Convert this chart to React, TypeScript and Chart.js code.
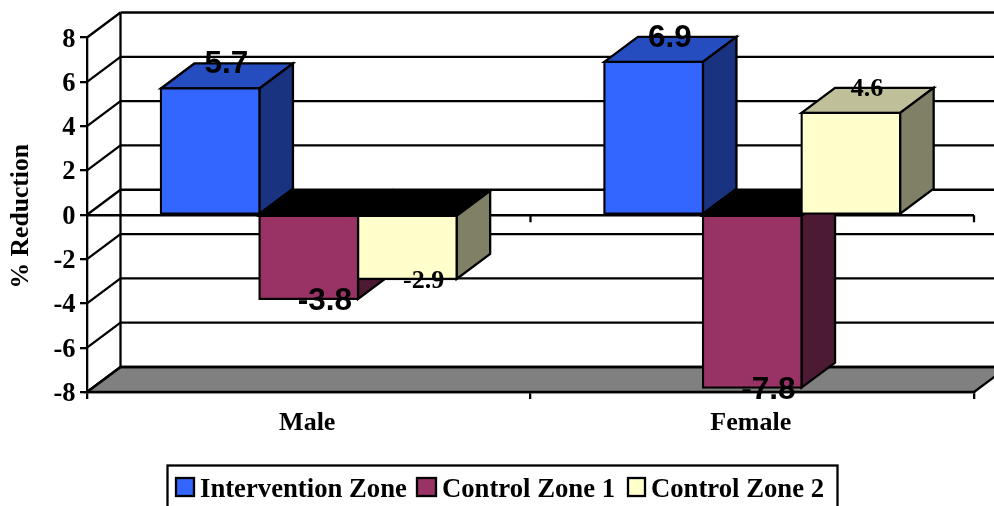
import React, { useEffect, useRef } from "react";
import { Chart, registerables } from "chart.js";

Chart.register(...registerables);

const categories = ["Male", "Female"];
const interventionZone = [5.7, 6.9];
const controlZone1 = [-3.8, -7.8];
const controlZone2 = [-2.9, 4.6];
const seriesNames = ["Intervention Zone", "Control Zone 1", "Control Zone 2"];
const axisTitle = "% Reduction";

const SERIF = "'Liberation Serif', 'Times New Roman', serif";
const SANS = "'Liberation Sans', Arial, sans-serif";
const DX = 33.5;
const DY = 25;
const LW = 2.3;

const faces = [
  { front: "#3366FF", top: "#264DBF", side: "#1A3380", labelFont: `bold 31.5px ${SANS}` },
  { front: "#993366", top: "#731F4D", side: "#4D1A33", labelFont: `bold 31.5px ${SANS}` },
  { front: "#FFFFCC", top: "#BFBF99", side: "#808066", labelFont: `bold 26px ${SERIF}` },
];

function poly(ctx: CanvasRenderingContext2D, pts: number[][], fill: string | null) {
  ctx.beginPath();
  pts.forEach((p, i) => (i ? ctx.lineTo(p[0], p[1]) : ctx.moveTo(p[0], p[1])));
  ctx.closePath();
  if (fill) {
    ctx.fillStyle = fill;
    ctx.fill();
  }
  ctx.stroke();
}

function line(ctx: CanvasRenderingContext2D, x1: number, y1: number, x2: number, y2: number) {
  ctx.beginPath();
  ctx.moveTo(x1, y1);
  ctx.lineTo(x2, y2);
  ctx.stroke();
}

const box3d = {
  id: "box3d",
  beforeDatasetsDraw(chart: any) {
    const { ctx, chartArea: a, scales } = chart;
    const ys = scales.y;
    const xs = scales.x;
    ctx.save();
    ctx.strokeStyle = "#000";
    ctx.lineWidth = LW;
    const bottom = ys.getPixelForValue(ys.min);
    poly(
      ctx,
      [
        [a.left, bottom],
        [a.left + DX, bottom - DY],
        [a.right + DX, bottom - DY],
        [a.right, bottom],
      ],
      "#808080"
    );
    ys.ticks.forEach((t: any) => {
      const y = ys.getPixelForValue(t.value);
      line(ctx, a.left, y, a.left + DX, y - DY);
      line(ctx, a.left + DX, y - DY, a.right + DX, y - DY);
    });
    line(ctx, a.left + DX, ys.getPixelForValue(ys.max) - DY, a.left + DX, bottom - DY);

    const zero = ys.getPixelForValue(0) + 0.5;
    line(ctx, a.left, zero, a.right, zero);
    const mid = (xs.getPixelForValue(0) + xs.getPixelForValue(1)) / 2;
    line(ctx, mid, zero, mid, zero + 7);
    line(ctx, a.right, zero, a.right, zero + 7);

    const n = chart.data.labels.length;
    for (let c = 0; c < n; c++) {
      chart.data.datasets.forEach((ds: any, d: number) => {
        const bar = chart.getDatasetMeta(d).data[c];
        const { x, y, base, width } = bar.getProps(["x", "y", "base", "width"], true);
        const l = x - width / 2;
        const r = x + width / 2;
        const top = Math.min(y, base);
        const low = Math.max(y, base);
        const f = faces[d];
        poly(
          ctx,
          [
            [l, top],
            [l + DX, top - DY],
            [r + DX, top - DY],
            [r, top],
          ],
          ds.data[c] < 0 ? "#000000" : f.top
        );
        poly(
          ctx,
          [
            [r, top],
            [r + DX, top - DY],
            [r + DX, low - DY],
            [r, low],
          ],
          f.side
        );
      });
    }
    ctx.restore();
  },
  afterDatasetsDraw(chart: any) {
    const { ctx, scales } = chart;
    const ys = scales.y;
    ctx.save();
    ctx.fillStyle = "#000";

    // value-axis tick labels and title
    ctx.font = `bold 26.5px ${SERIF}`;
    ctx.textAlign = "right";
    ctx.textBaseline = "alphabetic";
    ys.ticks.forEach((t: any) => {
      ctx.fillText(String(t.label), 75.5, ys.getPixelForValue(t.value) + 9);
    });
    ctx.save();
    ctx.translate(21, ys.getPixelForValue(0) + 1.5);
    ctx.rotate(-Math.PI / 2);
    ctx.textAlign = "center";
    ctx.textBaseline = "middle";
    ctx.font = `bold 25.6px ${SERIF}`;
    ctx.fillText(axisTitle, 0, 0);
    ctx.restore();

    // data labels
    ctx.textAlign = "center";
    ctx.textBaseline = "middle";
    chart.data.datasets.forEach((ds: any, d: number) => {
      chart.getDatasetMeta(d).data.forEach((bar: any, c: number) => {
        const { x, y } = bar.getProps(["x", "y"], true);
        const v = ds.data[c];
        ctx.font = faces[d].labelFont;
        ctx.fillText(String(v), x + DX / 2 - 0.5, v > 0 ? y - DY + 1 : y + 2.5);
      });
    });

    // legend frame and entries
    ctx.strokeStyle = "#000";
    ctx.lineWidth = LW;
    ctx.strokeRect(167.5, 465.5, 670, 60);
    ctx.font = `bold 26.7px ${SERIF}`;
    ctx.textAlign = "left";
    ctx.textBaseline = "alphabetic";
    const boxes = [176, 417, 628];
    const boxWidths = [18, 19, 17];
    const texts = [200, 442, 651];
    chart.data.datasets.forEach((ds: any, d: number) => {
      ctx.fillStyle = faces[d].front;
      ctx.fillRect(boxes[d], 478, boxWidths[d], 18);
      ctx.strokeRect(boxes[d], 478, boxWidths[d], 18);
      ctx.fillStyle = "#000";
      ctx.fillText(ds.label, texts[d], 496.5);
    });
    ctx.restore();
  },
};

export default function App() {
  const ref = useRef<HTMLCanvasElement>(null);
  useEffect(() => {
    const font = { family: SERIF, size: 26, weight: "bold" as const };
    const chart = new Chart(ref.current!, {
      type: "bar",
      data: {
        labels: categories,
        datasets: [interventionZone, controlZone1, controlZone2].map((data, i) => ({
          label: seriesNames[i],
          data,
          backgroundColor: faces[i].front,
          borderColor: "#000",
          borderWidth: LW,
          borderSkipped: false,
          inflateAmount: LW / 2,
          barPercentage: 1,
          categoryPercentage: 0.667,
        })),
      },
      options: {
        responsive: false,
        animation: false,
        layout: { padding: { left: 0, right: 20, top: 37.5, bottom: 0 } },
        plugins: { legend: { display: false }, tooltip: { enabled: false } },
        scales: {
          x: {
            afterFit: (s: any) => {
              s.height = 114;
            },
            grid: { drawOnChartArea: false, color: "#000", lineWidth: LW, tickLength: 7 },
            border: { color: "#000", width: LW },
            ticks: { color: "#000", font, padding: 9, maxRotation: 0, labelOffset: -1.5 },
          },
          y: {
            min: -8,
            max: 8,
            afterFit: (s: any) => {
              s.width = 87;
            },
            grid: { drawOnChartArea: false, color: "#000", lineWidth: LW, tickLength: 7 },
            border: { color: "#000", width: LW },
            ticks: { stepSize: 2, display: false },
          },
        },
      },
      plugins: [box3d],
    });
    return () => chart.destroy();
  }, []);
  return (
    <canvas
      ref={ref}
      width={994}
      height={506}
      style={{ position: "fixed", left: 0, top: 0, width: 994, height: 506, background: "#fff" }}
    />
  );
}
